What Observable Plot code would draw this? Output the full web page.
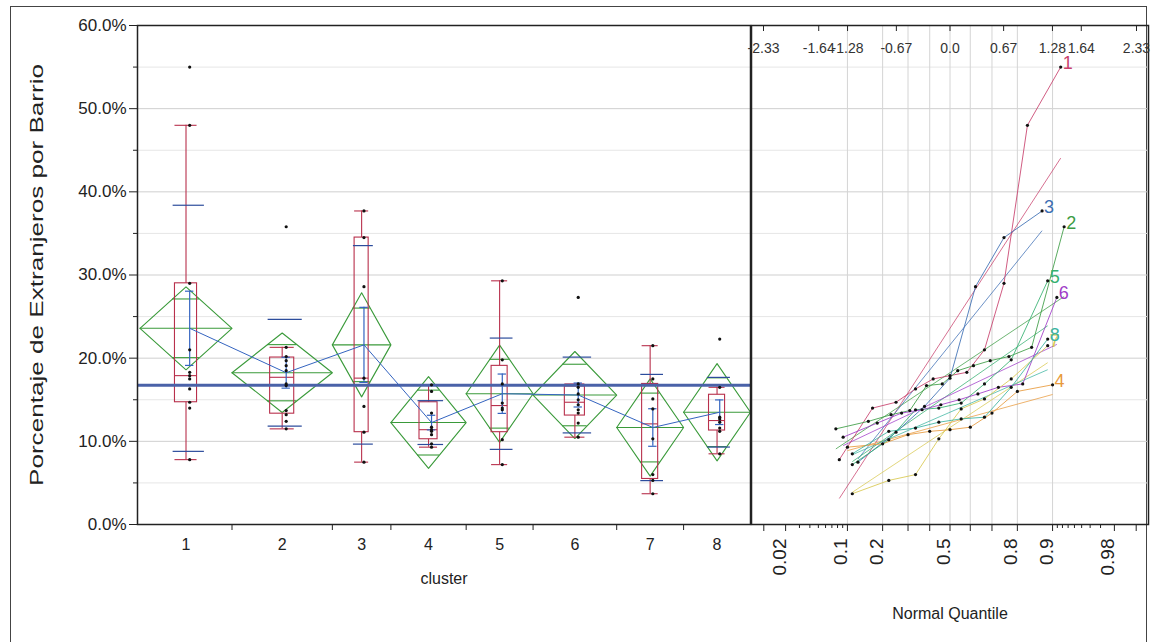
<!DOCTYPE html>
<html>
<head>
<meta charset="utf-8">
<script src="https://cdn.jsdelivr.net/npm/d3@7"></script>
<script src="https://cdn.jsdelivr.net/npm/@observablehq/plot@0.6"></script>
<style>
  body { margin: 0; background: #fff; font-family: "Liberation Sans", Arial, sans-serif; }
  #wrap { position: relative; width: 1153px; height: 642px; overflow: hidden; background: #fff; }
  #frame { position: absolute; left: 10px; top: 6px; width: 1137px; height: 660px; border: 1px solid #444; box-sizing: border-box; }
  #left { position: absolute; left: 0; top: 0; }
  #right { position: absolute; left: 751px; top: 0; }
  svg { overflow: visible; }
</style>
</head>
<body>
<div id="wrap">
  <div id="frame"></div>
  <div id="left"></div>
  <div id="right"></div>
</div>
<script>
// Percentage of foreign residents per neighbourhood, grouped by cluster
const clusters = ["1", "2", "3", "4", "5", "6", "7", "8"];
const cluster1 = [7.8, 14.0, 14.7, 16.3, 17.5, 17.9, 18.3, 21.0, 29.0, 48.0, 55.0];
const cluster2 = [11.5, 12.4, 13.2, 13.7, 16.7, 16.9, 18.5, 19.1, 19.7, 20.2, 21.3, 35.8];
const cluster3 = [7.5, 11.1, 14.2, 17.6, 28.6, 34.5, 37.7];
const cluster4 = [9.3, 9.7, 10.8, 11.2, 11.4, 11.7, 13.4, 16.0, 16.8];
const cluster5 = [7.2, 10.2, 13.8, 14.0, 14.6, 16.9, 19.8, 29.3];
const cluster6 = [10.5, 12.2, 13.4, 13.8, 14.4, 15.0, 15.7, 16.5, 16.9, 27.3];
const cluster7 = [3.7, 5.3, 6.0, 10.3, 13.9, 15.1, 17.5, 21.5];
const cluster8 = [8.5, 11.2, 11.6, 12.3, 12.7, 12.9, 16.5, 22.3];
const clusterValues = [cluster1, cluster2, cluster3, cluster4, cluster5, cluster6, cluster7, cluster8];

const clusterColors = ["#c8406c", "#3c9c44", "#3c6eb4", "#e89a3c", "#34b070", "#a03cc8", "#d8c850", "#3cb4a0"];

// axis ticks
const yMajor = [0, 10, 20, 30, 40, 50, 60];
const yMinor = [5, 15, 25, 35, 45, 55];
const yGrid = [5, 10, 15, 20, 25, 30, 35, 40, 45, 50, 55];
const quantileTicks = [-2.33, -1.64, -1.28, -0.67, 0, 0.67, 1.28, 1.64, 2.33];
const quantileTickLabels = ["-2.33", "-1.64", "-1.28", "-0.67", "0.0", "0.67", "1.28", "1.64", "2.33"];
const probLabelled = [0.02, 0.1, 0.2, 0.5, 0.8, 0.9, 0.98];
const probLabels = ["0.02", "0.1", "0.2", "0.5", "0.8", "0.9", "0.98"];
const probMajor = [0.01, 0.02, 0.1, 0.2, 0.3, 0.4, 0.5, 0.6, 0.7, 0.8, 0.9, 0.98, 0.99];
const probMinor = [0.03, 0.04, 0.05, 0.06, 0.07, 0.08, 0.09, 0.91, 0.92, 0.93, 0.94, 0.95, 0.96, 0.97];
const probGrid = [0.1, 0.2, 0.3, 0.4, 0.5, 0.6, 0.7, 0.8, 0.9];

// two-sided 95% Student t critical value for the pooled error df (73 - 8 = 65)
const tCrit = 1.997;

// inverse standard normal CDF (Acklam's rational approximation)
function qnorm(p) {
  const a = [-3.969683028665376e+01, 2.209460984245205e+02, -2.759285104469687e+02, 1.383577518672690e+02, -3.066479806614716e+01, 2.506628277459239e+00];
  const b = [-5.447609879822406e+01, 1.615858368580409e+02, -1.556989798598866e+02, 6.680131188771972e+01, -1.328068155288572e+01];
  const c = [-7.784894002430293e-03, -3.223964580411365e-01, -2.400758277161838e+00, -2.549732539343734e+00, 4.374664141464968e+00, 2.938163982698783e+00];
  const d = [7.784695709041462e-03, 3.224671290700398e-01, 2.445134137142996e+00, 3.754408661907416e+00];
  const pl = 0.02425;
  if (p < pl) {
    const q = Math.sqrt(-2 * Math.log(p));
    return (((((c[0]*q+c[1])*q+c[2])*q+c[3])*q+c[4])*q+c[5]) / ((((d[0]*q+d[1])*q+d[2])*q+d[3])*q+1);
  }
  if (p <= 1 - pl) {
    const q = p - 0.5, r = q * q;
    return (((((a[0]*r+a[1])*r+a[2])*r+a[3])*r+a[4])*r+a[5])*q / (((((b[0]*r+b[1])*r+b[2])*r+b[3])*r+b[4])*r+1);
  }
  const q = Math.sqrt(-2 * Math.log(1 - p));
  return -(((((c[0]*q+c[1])*q+c[2])*q+c[3])*q+c[4])*q+c[5]) / ((((d[0]*q+d[1])*q+d[2])*q+d[3])*q+1);
}

// quantile at position p(n+1), as used for the box plots
function quantileNp1(sorted, p) {
  const n = sorted.length, pos = p * (n + 1);
  if (pos <= 1) return sorted[0];
  if (pos >= n) return sorted[n - 1];
  const i = Math.floor(pos), f = pos - i;
  return sorted[i - 1] + f * (sorted[i] - sorted[i - 1]);
}

// per-cluster summaries; each category is as wide as its count
let start = 0;
const stats = clusters.map((name, k) => {
  const v = clusterValues[k].slice().sort((a, b) => a - b);
  const n = v.length;
  const mean = d3.mean(v), sd = d3.deviation(v);
  const q1 = quantileNp1(v, 0.25), med = quantileNp1(v, 0.5), q3 = quantileNp1(v, 0.75);
  const iqr = q3 - q1;
  const lo = d3.min(v.filter(x => x >= q1 - 1.5 * iqr));
  const hi = d3.max(v.filter(x => x <= q3 + 1.5 * iqr));
  const ss = d3.sum(v, x => (x - mean) ** 2);
  const s = {name, k, n, v, mean, sd, se: sd / Math.sqrt(n), q1, med, q3, lo, hi, ss, s0: start, s1: start + n, c: start + n / 2};
  start += n;
  return s;
});
const total = start;
const mse = d3.sum(stats, d => d.ss) / (total - stats.length);
stats.forEach(d => {
  d.ci = tCrit * Math.sqrt(mse / d.n);
  d.xs = d.c + 0.04 * d.n;          // position of points and error bars
  d.bw = 0.12 * d.n;                // half width of the box
});
const grandMean = d3.sum(stats, d => d3.sum(d.v)) / total;

// means diamonds
const diamonds = stats.flatMap(d => [
  {name: d.name, x: d.s0, y: d.mean},
  {name: d.name, x: d.c, y: d.mean + d.ci},
  {name: d.name, x: d.s1, y: d.mean},
  {name: d.name, x: d.c, y: d.mean - d.ci},
  {name: d.name, x: d.s0, y: d.mean}
]);
const overlap = stats.flatMap(d => {
  const h = (1 - Math.SQRT1_2) * d.n / 2;
  return [+1, -1].map(sg => ({x1: d.c - h, x2: d.c + h, y: d.mean + sg * d.ci * Math.SQRT1_2}));
});
const sdLines = stats.flatMap(d => [+1, -1].map(sg => ({x1: d.c - 0.14 * d.n, x2: d.c + 0.2 * d.n, y: d.mean + sg * d.sd})));
const errCaps = stats.flatMap(d => [+1, -1].map(sg => ({x1: d.xs - 0.5, x2: d.xs + 0.5, y: d.mean + sg * d.se})));
const points = stats.flatMap(d => d.v.map(v => ({x: d.xs, y: v})));
const boundaries = stats.slice(0, -1).map(d => d.s1);

const boxColor = "#b8304c", diamondColor = "#3a9a3a", blue = "#3464c0";
const fmtPct = d => d.toFixed(1) + "%";
const fontFamily = "'Liberation Sans', Arial, sans-serif";
const yTitle = "Porcentaje de Extranjeros por Barrio";

const left = Plot.plot({
  width: 751, height: 642,
  marginLeft: 137, marginRight: 1, marginTop: 25, marginBottom: 118,
  style: {fontFamily, fontSize: "14px", color: "#222", background: "transparent"},
  x: {type: "linear", domain: [-0.3, total]},
  y: {domain: [0, 60]},
  marks: [
    Plot.ruleY(yGrid, {stroke: d => d % 10 === 0 ? "#cfcfcf" : "#e6e6e6"}),
    Plot.line(diamonds, {x: "x", y: "y", z: "name", stroke: diamondColor, strokeWidth: 1.1}),
    Plot.ruleY(stats, {x1: "s0", x2: "s1", y: "mean", stroke: diamondColor, strokeWidth: 1.1}),
    Plot.ruleY(overlap, {x1: "x1", x2: "x2", y: "y", stroke: diamondColor, strokeWidth: 1.1}),
    Plot.rect(stats, {x1: d => d.c - d.bw, x2: d => d.c + d.bw, y1: "q1", y2: "q3", stroke: boxColor, fill: "none", strokeWidth: 1.1}),
    Plot.ruleY(stats, {x1: d => d.c - d.bw, x2: d => d.c + d.bw, y: "med", stroke: boxColor, strokeWidth: 1.1}),
    Plot.ruleX(stats, {x: "c", y1: "q3", y2: "hi", stroke: boxColor, strokeWidth: 1.1}),
    Plot.ruleX(stats, {x: "c", y1: "q1", y2: "lo", stroke: boxColor, strokeWidth: 1.1}),
    Plot.ruleY(stats, {x1: d => d.c - d.bw, x2: d => d.c + d.bw, y: "hi", stroke: boxColor, strokeWidth: 1.1}),
    Plot.ruleY(stats, {x1: d => d.c - d.bw, x2: d => d.c + d.bw, y: "lo", stroke: boxColor, strokeWidth: 1.1}),
    Plot.ruleY([grandMean], {stroke: "#4a62a8", strokeWidth: 3}),
    Plot.line(stats, {x: "xs", y: "mean", stroke: blue, strokeWidth: 1}),
    Plot.ruleX(stats, {x: "xs", y1: d => d.mean - d.se, y2: d => d.mean + d.se, stroke: blue, strokeWidth: 1.2}),
    Plot.ruleY(errCaps, {x1: "x1", x2: "x2", y: "y", stroke: blue, strokeWidth: 1.2}),
    Plot.ruleY(sdLines, {x1: "x1", x2: "x2", y: "y", stroke: "#2c4c9c", strokeWidth: 1.2}),
    Plot.dot(points, {x: "x", y: "y", r: 1.6, fill: "#111", stroke: "none"}),
    Plot.frame({stroke: "#222", strokeWidth: 1.5}),
    Plot.axisY(yMajor, {tickSize: 8, tickPadding: 3, tickFormat: fmtPct, fontSize: 17, label: null}),
    Plot.axisY(yMinor, {tickSize: 4, tickFormat: () => "", label: null}),
    Plot.axisX(boundaries, {tickSize: 6, tickFormat: () => "", label: null}),
    Plot.text(stats, {x: "c", text: "name", frameAnchor: "bottom", dy: 25, fontSize: 16}),
    Plot.text(["cluster"], {text: d => d, frameAnchor: "bottom", dy: 59, fontSize: 16}),
    Plot.text([yTitle], {text: d => d, frameAnchor: "left", textAnchor: "middle", dx: -101, rotate: -90, fontSize: 19})
  ]
});
// the rotated axis title runs along most of the axis
left.querySelectorAll("text").forEach(t => {
  if (t.textContent === yTitle) {
    t.setAttribute("textLength", "422");
    t.setAttribute("lengthAdjust", "spacingAndGlyphs");
  }
});
document.getElementById("left").appendChild(left);

// normal quantile plot
const qPoints = stats.flatMap(d => d.v.map((v, i) => ({name: d.name, z: qnorm((i + 1) / (d.n + 1)), v})));
const fitLines = stats.map(d => {
  const z1 = qnorm(1 / (d.n + 1)), z2 = qnorm(d.n / (d.n + 1));
  return {name: d.name, z1, z2, y1: d.mean + d.sd * z1, y2: d.mean + d.sd * z2};
});
const tops = stats.map(d => ({name: d.name, z: qnorm(d.n / (d.n + 1)), v: d.v[d.n - 1]}));

const right = Plot.plot({
  width: 402, height: 642,
  marginLeft: 0, marginRight: 5, marginTop: 25, marginBottom: 118,
  style: {fontFamily, fontSize: "13px", color: "#222", background: "transparent"},
  x: {domain: [-2.48, 2.48]},
  y: {domain: [0, 60], axis: null},
  color: {domain: clusters, range: clusterColors},
  marks: [
    Plot.ruleY(yGrid, {stroke: d => d % 10 === 0 ? "#cfcfcf" : "#e6e6e6"}),
    Plot.ruleX(probGrid, {x: p => qnorm(p), stroke: "#d4d4d4"}),
    Plot.link(fitLines, {x1: "z1", y1: "y1", x2: "z2", y2: "y2", stroke: "name", strokeWidth: 1, strokeOpacity: 0.75}),
    Plot.line(qPoints, {x: "z", y: "v", z: "name", stroke: "name", strokeWidth: 1, strokeOpacity: 0.85}),
    Plot.dot(qPoints, {x: "z", y: "v", r: 1.6, fill: "#111", stroke: "none"}),
    Plot.text(tops, {x: "z", y: "v", text: "name", fill: "name", dx: 7, dy: -4, fontSize: 18}),
    Plot.frame({stroke: "#222", strokeWidth: 1.5}),
    Plot.axisX(quantileTicks, {anchor: "top", tickSize: 5, dy: 5, tickFormat: () => "", label: null}),
    Plot.text(quantileTicks, {x: d => d, text: (d, i) => quantileTickLabels[i], frameAnchor: "top", dy: 18, fontSize: 14, fill: "#333"}),
    Plot.axisX(probMajor.map(qnorm), {tickSize: 7, tickFormat: () => "", label: null}),
    Plot.axisX(probMinor.map(qnorm), {tickSize: 4, tickFormat: () => "", label: null}),
    Plot.text(probLabelled, {x: p => qnorm(p), text: (d, i) => probLabels[i], frameAnchor: "bottom", dy: 14, rotate: -90, textAnchor: "end", fontSize: 19}),
    Plot.text(["Normal Quantile"], {text: d => d, frameAnchor: "bottom", dy: 94, fontSize: 16})
  ]
});
document.getElementById("right").appendChild(right);
</script>
</body>
</html>
